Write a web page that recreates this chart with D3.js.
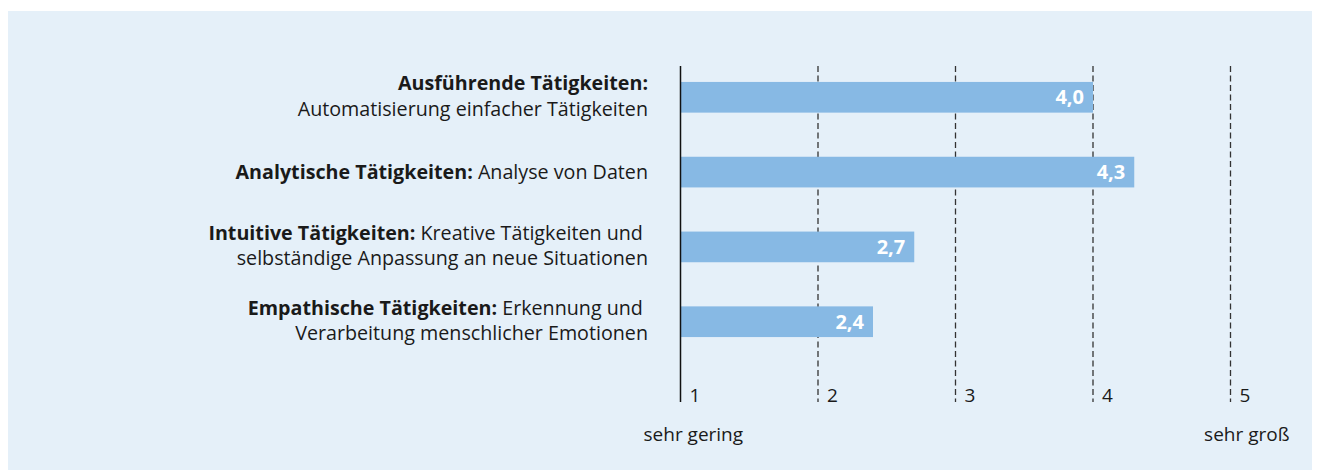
<!DOCTYPE html>
<html>
<head>
<meta charset="utf-8">
<script src="https://cdn.jsdelivr.net/npm/d3@7"></script>
<style>
  html, body { margin: 0; padding: 0; background: #fff; }
  svg text { font-family: "Open Sans", sans-serif; white-space: pre; }
</style>
</head>
<body>
<div id="chart"></div>
<script>
(function(){
	// Daten
	var categories = ["ausf", "anal", "intu", "empa"];
	var boldParts = ["Ausführende Tätigkeiten:", "Analytische Tätigkeiten:", "Intuitive Tätigkeiten:", "Empathische Tätigkeiten:"];
	var descLines = [
		["", "Automatisierung einfacher Tätigkeiten"],
		["Analyse von Daten"],
		["Kreative Tätigkeiten und ", "selbständige Anpassung an neue Situationen"],
		["Erkennung und ", "Verarbeitung menschlicher Emotionen"]
	];
	var values = [4.0, 4.3, 2.7, 2.4];
	var tickValues = [1, 2, 3, 4, 5];
	var endLabels = ["sehr gering", "sehr groß"];

	var W = 1320, H = 470;
	var BG = "#e5f0f9", BAR = "#87b9e4", TXT = "#1a1a1a";

	var svg = d3.select("#chart")
				.append("svg")
				.attr("width", W)
				.attr("height", H);

	// Hintergrund
	svg.append("rect")
		.attr("x", 8).attr("y", 11)
		.attr("width", W - 16).attr("height", H - 11)
		.attr("fill", BG);

	var x = d3.scaleLinear().domain([1, 5]).range([680.5, 1230.5]);
	var y = d3.scaleBand()
			  .domain(categories)
			  .range([59.5, 359.5])
			  .paddingInner(0.59)
			  .paddingOuter(0.3);

	var lineTop = 66, lineBottom = 402;

	// Gitterlinien (gestrichelt)
	svg.selectAll("line.grid")
		.data(tickValues.slice(1))
		.enter()
		.append("line")
		.attr("class", "grid")
		.attr("x1", function(d){ return x(d); })
		.attr("x2", function(d){ return x(d); })
		.attr("y1", lineTop)
		.attr("y2", lineBottom)
		.attr("stroke", "#333")
		.attr("stroke-width", 1.3)
		.attr("stroke-dasharray", "6,3.5");

	// Balken
	svg.selectAll("rect.bar")
		.data(values)
		.enter()
		.append("rect")
		.attr("class", "bar")
		.attr("x", x(1))
		.attr("y", function(d, i){ return y(categories[i]); })
		.attr("width", function(d){ return x(d) - x(1); })
		.attr("height", y.bandwidth())
		.attr("fill", BAR);

	// Achse
	svg.append("line")
		.attr("x1", x(1)).attr("x2", x(1))
		.attr("y1", lineTop).attr("y2", lineBottom)
		.attr("stroke", "#111")
		.attr("stroke-width", 1.5);

	// Werte
	svg.selectAll("text.val")
		.data(values)
		.enter()
		.append("text")
		.attr("class", "val")
		.attr("x", function(d){ return x(d) - 9; })
		.attr("y", function(d, i){ return y(categories[i]) + y.bandwidth()/2 + 7; })
		.attr("text-anchor", "end")
		.attr("fill", "#fff")
		.attr("font-weight", "bold")
		.attr("font-size", "20px")
		.text(function(d){ return d3.format(".1f")(d).replace(".", ","); });

	// Kategorien
	var labelX = 648;
	categories.forEach(function(c, i){
		var cy = y(c) + y.bandwidth()/2;
		var lines = descLines[i];
		var t = svg.append("text")
				   .attr("text-anchor", "end")
				   .attr("fill", TXT)
				   .attr("font-size", "19.7px");
		lines.forEach(function(s, j){
			var base = lines.length == 1 ? cy + 7 : cy - 7 + j * 25.5;
			if (j == 0){
				t.append("tspan")
				 .attr("x", labelX).attr("y", base)
				 .attr("font-weight", "bold")
				 .text(boldParts[i] + (s ? " " : ""));
				if (s){
					t.append("tspan").text(s);
				}
			}
			else{
				t.append("tspan")
				 .attr("x", labelX).attr("y", base)
				 .text(s);
			}
		});
	});

	// Skalenbeschriftung
	svg.selectAll("text.tick")
		.data(tickValues)
		.enter()
		.append("text")
		.attr("class", "tick")
		.attr("x", function(d){ return x(d) + 9; })
		.attr("y", lineBottom)
		.attr("fill", TXT)
		.attr("font-size", "19px")
		.text(function(d){ return d; });

	svg.append("text")
		.attr("x", x(1) - 37).attr("y", 441)
		.attr("fill", TXT).attr("font-size", "19px")
		.text(endLabels[0]);
	svg.append("text")
		.attr("x", x(5) + 59).attr("y", 441)
		.attr("text-anchor", "end")
		.attr("fill", TXT).attr("font-size", "19px")
		.text(endLabels[1]);
})();
</script>
</body>
</html>
